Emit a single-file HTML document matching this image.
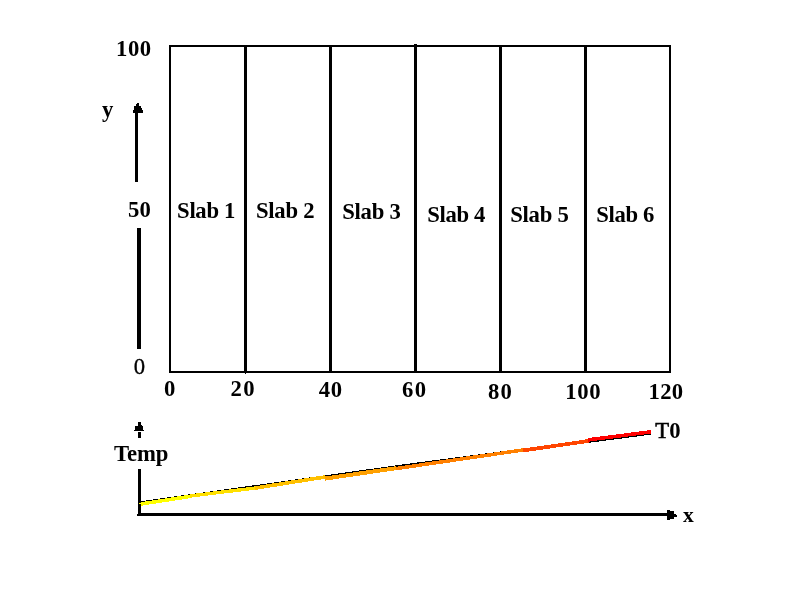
<!DOCTYPE html>
<html><head><meta charset="utf-8"><title>Slabs</title>
<style>
html,body{margin:0;padding:0;background:#fff;}
body{width:800px;height:600px;overflow:hidden;}
svg{display:block;}
text{font-family:"Liberation Serif",serif;fill:#000;}
</style></head><body>
<svg width="800" height="600" viewBox="0 0 800 600">
<rect x="0" y="0" width="800" height="600" fill="#ffffff"/>
<g shape-rendering="crispEdges" fill="#000">
<!-- outer rectangle -->
<rect x="169" y="45" width="502" height="2"/>
<rect x="169" y="371" width="502" height="2"/>
<rect x="169" y="45" width="2" height="328"/>
<rect x="669" y="45" width="2" height="328"/>
<!-- dividers -->
<rect x="244" y="45" width="3" height="328"/>
<rect x="245" y="373" width="1" height="1"/>
<rect x="329" y="45" width="3" height="328"/>
<rect x="414" y="44" width="3" height="329"/>
<rect x="499" y="45" width="3" height="328"/>
<rect x="584" y="45" width="3" height="328"/>
<!-- y arrow -->
<rect x="137" y="103" width="2" height="1"/>
<rect x="136" y="104" width="3" height="2"/>
<rect x="134" y="106" width="7" height="2"/>
<rect x="134" y="108" width="8" height="2"/>
<rect x="133" y="110" width="10" height="3"/>
<rect x="135" y="113" width="3" height="69"/>
<rect x="137" y="228" width="4" height="121"/>
<!-- temp axis -->
<rect x="138" y="422" width="3" height="4"/>
<rect x="141" y="425" width="1" height="1"/>
<rect x="135" y="426" width="8" height="4"/>
<rect x="134" y="430" width="10" height="1"/>
<rect x="138" y="432" width="3" height="6"/>
<rect x="138" y="469" width="3" height="47"/>
<rect x="138" y="513" width="529" height="3"/>
<rect x="137" y="514" width="1" height="2"/>
<!-- x arrow head -->
<rect x="667" y="510" width="3" height="10"/>
<rect x="670" y="511" width="4" height="8"/>
<rect x="674" y="514" width="2" height="3"/>
<rect x="676" y="515" width="1" height="2"/>
</g>
<!-- temperature line -->
<g id="tline" fill="none" stroke-linecap="butt" shape-rendering="crispEdges">
<polyline points="138,503.1 400,466.3 651,433.1" stroke="#000" stroke-width="3"/>
<line x1="141" y1="504.0" x2="190.5" y2="496.3" stroke="#ffff00" stroke-width="3.6"/>
<rect x="139" y="503" width="2" height="1" fill="#ffff00"/>
<line x1="190" y1="496.0" x2="255.5" y2="488.0" stroke="#ffe000" stroke-width="3.4"/>
<line x1="255" y1="488.1" x2="325.5" y2="476.9" stroke="#ffc000" stroke-width="3.6"/>
<line x1="325" y1="478.6" x2="396.5" y2="468.1" stroke="#ffa000" stroke-width="4"/>
<line x1="396" y1="468.6" x2="523.5" y2="449.9" stroke="#ff8000" stroke-width="3.5"/>
<line x1="523" y1="450.4" x2="588.5" y2="441.0" stroke="#ff4500" stroke-width="3.8"/>
<line x1="588" y1="439.9" x2="651" y2="431.8" stroke="#ff0000" stroke-width="3.6"/>
</g>
<g id="labels" style="filter:grayscale(1)">
<text id="t100" x="116.00" y="56.00" font-size="22.7" font-weight="bold" letter-spacing="0.55">100</text>
<text id="ty" x="102.00" y="117.00" font-size="22.7" font-weight="bold" letter-spacing="0">y</text>
<text id="t50" x="128.00" y="217.00" font-size="22.7" font-weight="bold" letter-spacing="0.2">50</text>
<text id="t0y" x="133.70" y="374.00" font-size="22.7" font-weight="normal" letter-spacing="0"><tspan stroke="#000" stroke-width="0.3">0</tspan></text>
<text id="s1" x="177.10" y="218.00" font-size="22.7" font-weight="bold" letter-spacing="-0.32">Slab 1</text>
<text id="s2" x="255.90" y="218.00" font-size="22.7" font-weight="bold" letter-spacing="-0.25">Slab 2</text>
<text id="s3" x="342.20" y="219.00" font-size="22.7" font-weight="bold" letter-spacing="-0.25">Slab 3</text>
<text id="s4" x="427.20" y="222.00" font-size="22.7" font-weight="bold" letter-spacing="-0.35">Slab 4</text>
<text id="s5" x="510.20" y="222.00" font-size="22.7" font-weight="bold" letter-spacing="-0.25">Slab 5</text>
<text id="s6" x="596.20" y="222.00" font-size="22.7" font-weight="bold" letter-spacing="-0.35">Slab 6</text>
<text id="x0" x="164.00" y="395.50" font-size="22.7" font-weight="bold" letter-spacing="0">0</text>
<text id="x20" x="230.60" y="396.00" font-size="22.7" font-weight="bold" letter-spacing="1.2">20</text>
<text id="x40" x="318.80" y="397.00" font-size="22.7" font-weight="bold" letter-spacing="0.7">40</text>
<text id="x60" x="402.10" y="397.00" font-size="22.7" font-weight="bold" letter-spacing="1.2">60</text>
<text id="x80" x="487.90" y="399.00" font-size="22.7" font-weight="bold" letter-spacing="1.2">80</text>
<text id="x100" x="565.20" y="399.00" font-size="22.7" font-weight="bold" letter-spacing="0.7">100</text>
<text id="x120" x="648.50" y="399.00" font-size="22.7" font-weight="bold" letter-spacing="0.3">120</text>
<text id="temp" x="114.00" y="460.50" font-size="22.7" font-weight="bold" letter-spacing="-0.1">Temp</text>
<text id="tT0" x="655.30" y="438.00" font-size="22.7" font-weight="bold" letter-spacing="-0.8"><tspan font-weight="normal" stroke="#000" stroke-width="0.6">T</tspan><tspan dx="1.0">0</tspan></text>
<text id="tx" x="683.00" y="522.00" font-size="21.5" font-weight="bold" letter-spacing="0">x</text>
</g>
</svg>
</body></html>
